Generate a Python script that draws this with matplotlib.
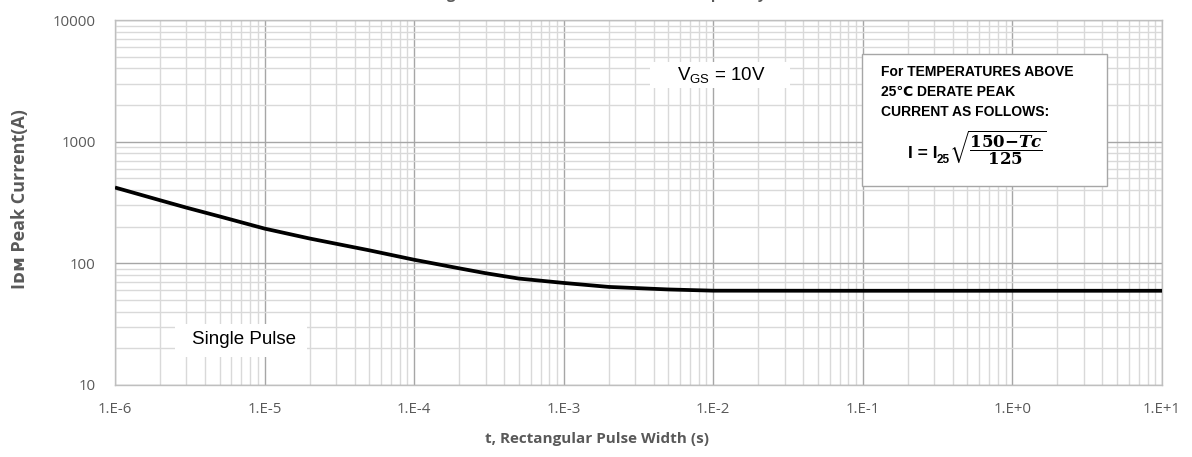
import matplotlib
matplotlib.use("Agg")
import matplotlib.pyplot as plt
from matplotlib.ticker import LogLocator, FixedLocator, NullFormatter
from matplotlib.mathtext import MathTextParser

plt.rcParams['font.family'] = ['Open Sans', 'DejaVu Sans']
plt.rcParams['mathtext.fontset'] = 'dejavuserif'

# data
pulse_width = [1e-6, 2e-6, 3e-6, 5e-6, 1e-5, 2e-5, 5e-5, 1e-4, 2e-4, 3e-4, 5e-4,
               1e-3, 2e-3, 5e-3, 1e-2, 1e-1, 1e0, 1e1]
peak_current = [420, 330, 287, 243, 193, 160, 128, 107, 91, 83, 75,
                69, 64, 61, 59.6, 59.5, 59.5, 59.5]
x_ticks = [1e-6, 1e-5, 1e-4, 1e-3, 1e-2, 1e-1, 1e0, 1e1]
x_tick_labels = ["1.E-6", "1.E-5", "1.E-4", "1.E-3", "1.E-2", "1.E-1", "1.E+0", "1.E+1"]
y_ticks = [10, 100, 1000, 10000]
y_tick_labels = ["10", "100", "1000", "10000"]

W, H = 1192, 457
fig = plt.figure(figsize=(W / 100, H / 100), dpi=100)
ax = fig.add_axes([115 / W, 1 - 385 / H, (1162 - 115) / W, (385 - 20) / H])

ax.set_xscale('log')
ax.set_yscale('log')
ax.set_xlim(1e-6, 1e1)
ax.set_ylim(10, 10000)

ax.xaxis.set_major_locator(FixedLocator(x_ticks))
ax.set_xticklabels(x_tick_labels)
ax.yaxis.set_major_locator(FixedLocator(y_ticks))
ax.set_yticklabels(y_tick_labels)
ax.xaxis.set_minor_locator(LogLocator(base=10, subs=range(2, 10), numticks=100))
ax.yaxis.set_minor_locator(LogLocator(base=10, subs=range(2, 10), numticks=100))
ax.xaxis.set_minor_formatter(NullFormatter())
ax.yaxis.set_minor_formatter(NullFormatter())

ax.grid(which='minor', color='#d9d9d9', linewidth=1.0, zorder=0)
ax.grid(which='major', color='#a6a6a6', linewidth=1.0, zorder=0)
ax.set_axisbelow(True)
ax.tick_params(which='both', length=0, labelsize=10.8, labelcolor='#595959')
ax.tick_params(axis='x', pad=12)
ax.tick_params(axis='y', pad=14)
for s in ax.spines.values():
    s.set_color('#bfbfbf')
    s.set_linewidth(1.0)

ax.plot(pulse_width, peak_current, color='black', linewidth=2.7, zorder=5,
        solid_joinstyle='round', solid_capstyle='butt')

fig.text(597 / W, 1 - 439 / H, "t, Rectangular Pulse Width (s)", ha='center', va='center',
         fontsize=11, fontweight='bold', color='#595959')
fig.text(20 / W, 1 - 199 / H, "Iᴅᴍ Peak Current(A)", ha='center', va='center', rotation=90,
         fontsize=13, fontweight='bold', color='#595959')

# title (cut off by the top edge in the reference)
fig.text(0.5, 1.0 + 1 / H, "Single Pulse Maximum Peak Current Capability", ha='center', va='baseline',
         fontsize=10.5, fontweight='bold', color='#595959')

arial = ['Liberation Sans', 'DejaVu Sans']

# V_GS annotation
ax.add_patch(plt.Rectangle(((650 - 115) / 1047, (385 - 88) / 365), 140 / 1047, 26 / 365,
                           transform=ax.transAxes, facecolor='white', edgecolor='none', zorder=6))
ax.text((721 - 115) / 1047, (385 - 75) / 365, r"V$_{\mathregular{GS}}$ = 10V", transform=ax.transAxes,
        ha='center', va='center', fontsize=13.5, family=arial, color='black', zorder=7)

# Single pulse annotation
ax.add_patch(plt.Rectangle(((175 - 115) / 1047, (385 - 357) / 365), 132 / 1047, 33 / 365,
                           transform=ax.transAxes, facecolor='white', edgecolor='none', zorder=6))
ax.text((244 - 115) / 1047, (385 - 340) / 365, "Single Pulse", transform=ax.transAxes,
        ha='center', va='center', fontsize=13.5, family=arial, color='black', zorder=7)

# derate box
rect = plt.Rectangle((862 / W, 1 - 186 / H), (1107 - 862) / W, (186 - 54) / H, transform=fig.transFigure,
                     facecolor='white', edgecolor='#a6a6a6', linewidth=1.0, zorder=10)
fig.patches.append(rect)
for line, yb in zip(["For TEMPERATURES ABOVE", "25\u2103 DERATE PEAK", "CURRENT AS FOLLOWS:"], [76, 96, 116]):
    fig.text(881 / W, 1 - yb / H, line, ha='left', va='baseline', fontsize=10, fontweight='bold',
             family=arial, zorder=11, color='black')

fig.text(937 / W, 1 - 158 / H, "I = I", ha='right', va='baseline', fontsize=12.5, fontweight='bold',
         family=arial, zorder=11, color='black')
fig.text(937 / W, 1 - 163 / H, "25", ha='left', va='baseline', fontsize=8.5, fontweight='bold',
         family=arial, zorder=11, color='black')

frac = r"$\sqrt{\dfrac{\mathbf{150}\boldsymbol{-}\mathbfit{Tc}}{\mathbf{125}}}$"
try:
    MathTextParser('agg').parse(frac, dpi=100)
except Exception:
    frac = r"$\sqrt{\dfrac{\mathbf{150-}\mathit{Tc}}{\mathbf{125}}}$"
    try:
        MathTextParser('agg').parse(frac, dpi=100)
    except Exception:
        frac = r"$\sqrt{\dfrac{\mathbf{150-Tc}}{\mathbf{125}}}$"
fig.text(949 / W, 1 - 148 / H, frac, ha='left', va='center', fontsize=12, zorder=11, color='black')

fig.savefig("out.png", dpi=100)
